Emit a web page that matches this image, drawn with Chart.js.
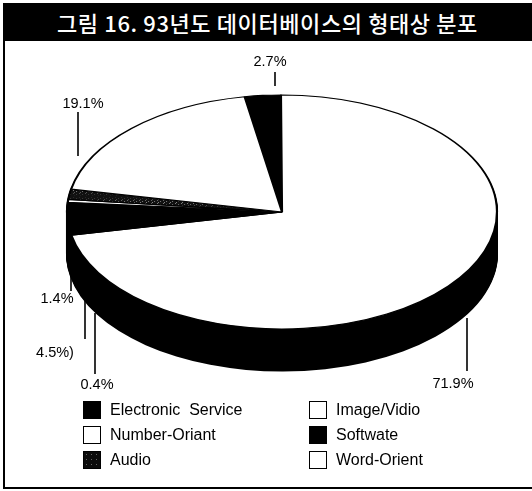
<!DOCTYPE html>
<html>
<head>
<meta charset="utf-8">
<script src="https://cdn.jsdelivr.net/npm/chart.js@4/dist/chart.umd.min.js"></script>
<style>
  html, body { margin: 0; padding: 0; background: #fff; }
  #wrap { position: relative; width: 532px; height: 491px; overflow: hidden; }
  #frame { position: absolute; left: 3px; top: 3px; width: 540px; height: 484px;
           border-left: 2px solid #000; border-bottom: 2px solid #000; }
  #title { position: absolute; left: 3px; top: 3px; width: 529px; height: 38px; background: #000;
           color: #fff; font-family: "Noto Sans CJK KR", sans-serif; font-size: 22px; font-weight: 500;
           letter-spacing: 0.6px; line-height: 38px; text-align: center; white-space: pre; }
  #title span { position: relative; left: 0px; }
  canvas { position: absolute; left: 0; top: 0; }
  .lg { position: absolute; font-family: "Liberation Sans", Arial, sans-serif; font-size: 16px;
        line-height: 18px; white-space: pre; color: #000; }
  .lg i { position: absolute; left: 0; top: 0; width: 16px; height: 16px; border: 1px solid #000; }
  .lg b { position: absolute; left: 27px; top: 0; font-weight: normal; }
</style>
</head>
<body>
<div id="wrap">
  <div id="frame"></div>
  <div id="title"><span>그림 16. 93년도 데이터베이스의 형태상 분포</span></div>
  <canvas id="pie" width="532" height="491"></canvas>
  <div id="legend"></div>
</div>
<script>
// slices, clockwise from the top
const categories = ['Electronic Service', 'Word-Orient', 'Softwate', 'Image/Vidio', 'Audio', 'Number-Oriant'];
const shares = [2.7, 71.9, 4.5, 0.4, 1.4, 19.1];
// legend order (two columns, read row by row)
const legendOrder = ['Electronic Service', 'Image/Vidio', 'Number-Oriant', 'Softwate', 'Audio', 'Word-Orient'];

// look
const TILT = 117 / 215;    // vertical squash of the pie face
const FACE_Y = 212;        // centre of the face on screen
const DEPTH = 42;          // thickness of the side

function audioPattern() {
  const c = document.createElement('canvas');
  c.width = 6; c.height = 6;
  const g = c.getContext('2d');
  g.fillStyle = '#111';
  g.fillRect(0, 0, 6, 6);
  g.fillStyle = '#8a8a8a';
  g.fillRect(1, 1, 1, 1);
  g.fillRect(4, 3, 1, 1);
  g.fillRect(2, 5, 1, 1);
  return g.createPattern(c, 'repeat');
}

const fills = {
  'Electronic Service': '#000',
  'Word-Orient': '#fff',
  'Softwate': '#000',
  'Image/Vidio': '#fff',
  'Audio': audioPattern(),
  'Number-Oriant': '#fff'
};
const legendSwatch = {
  'Electronic Service': '#000',
  'Word-Orient': '#fff',
  'Softwate': '#000',
  'Image/Vidio': '#fff',
  'Audio': 'radial-gradient(#666 0.6px, transparent 1px) 0 0/5px 5px, #0c0c0c',
  'Number-Oriant': '#fff'
};

// where each percentage sits, with its leader line
const labelPlace = {
  'Electronic Service': { tx: 270, ty: 62, lx: 275, l0: 72, l1: 86, suffix: '' },
  'Word-Orient':        { tx: 453, ty: 384, lx: 467, l0: 318, l1: 371, suffix: '' },
  'Softwate':           { tx: 55, ty: 353, lx: 85, l0: 300, l1: 339, suffix: ')' },
  'Image/Vidio':        { tx: 97, ty: 385, lx: 95, l0: 313, l1: 374, suffix: '' },
  'Audio':              { tx: 57, ty: 299, lx: 71, l0: 250, l1: 291, suffix: '' },
  'Number-Oriant':      { tx: 83, ty: 104, lx: 78, l0: 112, l1: 156, suffix: '' }
};

function toFace(ctx, cy, shift) {
  ctx.translate(0, FACE_Y + shift);
  ctx.scale(1, TILT);
  ctx.translate(0, -cy);
}

const tiltPlugin = {
  id: 'tilt',
  beforeDatasetsDraw(chart) {
    const ctx = chart.ctx;
    const arcs = chart.getDatasetMeta(0).data;
    const cy = arcs[0].y;
    // side of the pie: the slices pushed down, all black
    for (let d = DEPTH; d > 0; d--) {
      ctx.save();
      toFace(ctx, cy, d);
      ctx.fillStyle = '#000';
      arcs.forEach(a => {
        ctx.beginPath();
        ctx.moveTo(a.x, a.y);
        ctx.arc(a.x, a.y, a.outerRadius + 1, a.startAngle, a.endAngle);
        ctx.closePath();
        ctx.fill();
      });
      ctx.restore();
    }
    ctx.save();
    toFace(ctx, cy, 0);
  },
  afterDatasetsDraw(chart) {
    chart.ctx.restore();
  },
  afterDraw(chart) {
    const ctx = chart.ctx;
    ctx.save();
    ctx.strokeStyle = '#000';
    ctx.lineWidth = 1.6;
    ctx.fillStyle = '#000';
    ctx.font = '14.5px "Liberation Sans", Arial, sans-serif';
    ctx.textAlign = 'center';
    ctx.textBaseline = 'middle';
    chart.data.labels.forEach((name, i) => {
      const p = labelPlace[name];
      ctx.beginPath();
      ctx.moveTo(p.lx, p.l0);
      ctx.lineTo(p.lx, p.l1);
      ctx.stroke();
      ctx.fillText(chart.data.datasets[0].data[i].toFixed(1) + '%' + p.suffix, p.tx, p.ty);
    });
    ctx.restore();
  }
};

new Chart(document.getElementById('pie'), {
  type: 'pie',
  data: {
    labels: categories,
    datasets: [{
      data: shares,
      backgroundColor: categories.map(c => fills[c]),
      borderColor: '#000',
      borderWidth: 2.2,
      clip: false
    }]
  },
  options: {
    responsive: false,
    animation: false,
    rotation: -10,
    radius: 215,
    layout: { padding: { left: 67, right: 35, top: 30, bottom: 31 } },
    plugins: {
      legend: { display: false },
      tooltip: { enabled: false }
    }
  },
  plugins: [tiltPlugin]
});

// legend, two columns
const legendBox = document.getElementById('legend');
legendOrder.forEach((name, i) => {
  const col = i % 2, row = Math.floor(i / 2);
  const item = document.createElement('div');
  item.className = 'lg';
  item.style.left = (col === 0 ? 83 : 309) + 'px';
  item.style.top = (401 + row * 25) + 'px';
  const sw = document.createElement('i');
  sw.style.background = legendSwatch[name];
  const tx = document.createElement('b');
  tx.textContent = name === 'Electronic Service' ? 'Electronic  Service' : name;
  item.appendChild(sw);
  item.appendChild(tx);
  legendBox.appendChild(item);
});
</script>
</body>
</html>
